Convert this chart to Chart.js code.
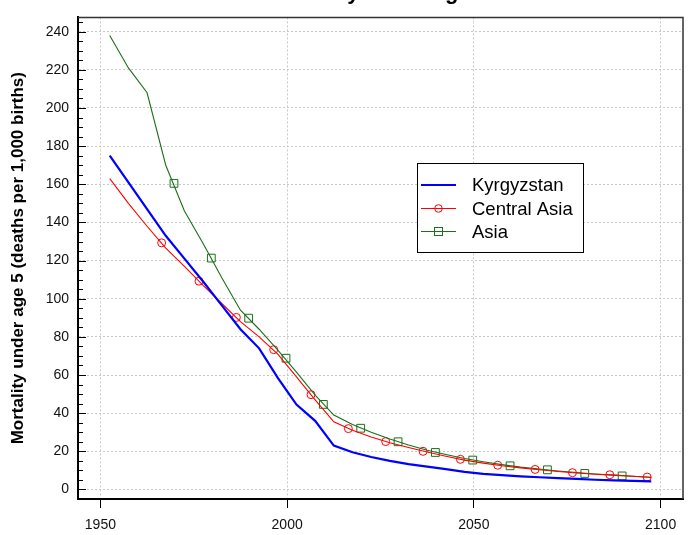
<!DOCTYPE html>
<html>
<head>
<meta charset="utf-8">
<title>Mortality under age 5</title>
<script src="https://cdn.jsdelivr.net/npm/chart.js@4"></script>
<style>
  html, body { margin: 0; padding: 0; background: #fff; }
  #wrap { width: 695px; height: 535px; }
</style>
</head>
<body>
<div id="wrap"><canvas id="myChart" width="695" height="535"></canvas></div>
<script>
const years = [1952.5, 1957.5, 1962.5, 1967.5, 1972.5, 1977.5, 1982.5, 1987.5, 1992.5, 1997.5,
  2002.5, 2007.5, 2012.5, 2017.5, 2022.5, 2027.5, 2032.5, 2037.5, 2042.5, 2047.5,
  2052.5, 2057.5, 2062.5, 2067.5, 2072.5, 2077.5, 2082.5, 2087.5, 2092.5, 2097.5];

const kyrgyzstan = [175, 161, 147, 133, 121, 109, 96.5, 84, 74, 58.5,
  44.5, 36, 23, 19.5, 17, 15, 13.3, 12, 10.7, 9.2,
  8.2, 7.5, 6.9, 6.4, 5.9, 5.5, 5.1, 4.8, 4.5, 4.2];

const centralAsia = [163, 150, 138, 126.5, 117, 107, 97.5, 88, 80, 71,
  59, 47, 35.5, 31, 27.5, 24.5, 22, 19.6, 17.4, 15.4,
  13.8, 12.4, 11.3, 10.3, 9.4, 8.6, 8.0, 7.5, 6.9, 6.4];

const asia = [238, 221, 208, 170, 146, 129, 111, 94, 84, 73,
  61.5, 49.5, 39, 34, 30, 26.5, 23.3, 20.6, 18.3, 16.2,
  14.5, 13.0, 11.7, 10.7, 9.7, 8.9, 8.1, 7.5, 6.9, 6.3];

const centralAsiaMarkerYears = [1966.4, 1976.4, 1986.4, 1996.4, 2006.4, 2016.4, 2026.4,
  2036.4, 2046.4, 2056.4, 2066.4, 2076.4, 2086.4, 2096.4];
const centralAsiaMarkers = [129.3, 109.2, 90.2, 73.3, 49.7, 31.9, 25.1,
  20.0, 15.8, 12.7, 10.5, 8.8, 7.7, 6.5];

const asiaMarkerYears = [1969.7, 1979.7, 1989.7, 1999.7, 2009.7, 2019.7, 2029.7,
  2039.7, 2049.7, 2059.7, 2069.7, 2079.7, 2089.7];
const asiaMarkers = [160.5, 121.3, 89.8, 68.8, 44.6, 32.1, 25.0,
  19.4, 15.4, 12.4, 10.3, 8.4, 7.1];

const seriesNames = ['Kyrgyzstan', 'Central Asia', 'Asia'];
const chartTitle = 'Mortality under age 5';
const yTitle = 'Mortality under age 5 (deaths per 1,000 births)';

const font = "'Liberation Sans', Arial, Helvetica, sans-serif";
const blue = '#0000ff';
const red = '#ff0000';
const green = '#197019';

const toPoints = (xs, ys) => xs.map((x, i) => ({ x: x, y: ys[i] }));

const extras = {
  id: 'extras',
  afterDraw: (chart) => {
    const { ctx, chartArea: area } = chart;
    const y = chart.scales.y;
    ctx.save();

    // title, mostly cut off by the top edge
    ctx.fillStyle = '#000';
    ctx.font = `bold 22px ${font}`;
    ctx.textAlign = 'center';
    ctx.textBaseline = 'alphabetic';
    ctx.fillText(chartTitle, (area.left + area.right) / 2 - 2, -1.5);

    // top and right frame
    ctx.strokeStyle = '#333';
    ctx.lineWidth = 1.5;
    ctx.beginPath();
    ctx.moveTo(area.left, area.top);
    ctx.lineTo(area.right, area.top);
    ctx.lineTo(area.right, area.bottom);
    ctx.stroke();

    // inward ticks on the y axis
    ctx.strokeStyle = '#000';
    ctx.lineWidth = 1;
    for (let v = 0; v <= 245; v += 5) {
      const py = Math.round(y.getPixelForValue(v)) + 0.5;
      const len = v % 20 === 0 ? 8 : 5;
      ctx.beginPath();
      ctx.moveTo(area.left, py);
      ctx.lineTo(area.left + len, py);
      ctx.stroke();
    }

    // legend box
    const bx = 417, by = 163, bw = 166, bh = 89;
    ctx.fillStyle = '#fff';
    ctx.fillRect(bx, by, bw, bh);
    ctx.strokeStyle = '#000';
    ctx.lineWidth = 1;
    ctx.strokeRect(bx + 0.5, by + 0.5, bw, bh);

    const rows = [185, 208.5, 231.5];
    chart.data.datasets.slice(0, 3).forEach((ds, i) => {
      const ry = rows[i];
      ctx.strokeStyle = ds.borderColor;
      ctx.lineWidth = ds.borderWidth;
      ctx.beginPath();
      ctx.moveTo(421, ry);
      ctx.lineTo(456, ry);
      ctx.stroke();
      ctx.lineWidth = 1;
      if (i === 1) {
        ctx.beginPath();
        ctx.arc(438.5, ry, 3.8, 0, Math.PI * 2);
        ctx.stroke();
      } else if (i === 2) {
        ctx.strokeRect(434.5, ry - 4, 8, 8);
      }
      ctx.fillStyle = '#000';
      ctx.font = `18.5px ${font}`;
      ctx.textAlign = 'left';
      ctx.textBaseline = 'middle';
      ctx.fillText(ds.label, 472, ry + 1);
    });

    ctx.restore();
  }
};

const createChart = () => {
  const ctx = document.getElementById('myChart');

  new Chart(ctx, {
    type: 'line',
    data: {
      datasets: [{
        label: seriesNames[0],
        data: toPoints(years, kyrgyzstan),
        borderColor: blue,
        borderWidth: 2.2,
        pointRadius: 0,
        tension: 0
      }, {
        label: seriesNames[1],
        data: toPoints(years, centralAsia),
        borderColor: red,
        borderWidth: 1.1,
        pointRadius: 0,
        tension: 0
      }, {
        label: seriesNames[2],
        data: toPoints(years, asia),
        borderColor: green,
        borderWidth: 1.1,
        pointRadius: 0,
        tension: 0
      }, {
        label: seriesNames[1] + ' markers',
        data: toPoints(centralAsiaMarkerYears, centralAsiaMarkers),
        showLine: false,
        borderColor: red,
        backgroundColor: 'rgba(0,0,0,0)',
        borderWidth: 1,
        pointStyle: 'circle',
        pointRadius: 4
      }, {
        label: seriesNames[2] + ' markers',
        data: toPoints(asiaMarkerYears, asiaMarkers),
        showLine: false,
        borderColor: green,
        backgroundColor: 'rgba(0,0,0,0)',
        borderWidth: 1,
        pointStyle: 'rect',
        pointRadius: 5.5
      }]
    },
    options: {
      responsive: false,
      animation: false,
      devicePixelRatio: 1,
      layout: { padding: { top: 8, right: 12, left: 0, bottom: 0 } },
      plugins: {
        legend: { display: false },
        tooltip: { enabled: false },
        title: { display: false }
      },
      scales: {
        x: {
          type: 'linear',
          min: 1944,
          max: 2106,
          afterFit: (s) => { s.height = 36; },
          ticks: {
            stepSize: 50,
            includeBounds: false,
            padding: 9,
            color: '#111',
            font: { family: font, size: 14 },
            maxRotation: 0,
            callback: (v) => String(v)
          },
          grid: {
            color: '#c8c8c8',
            drawTicks: true,
            tickLength: 9,
            tickColor: '#000',
            tickWidth: 1,
            tickBorderDash: []
          },
          border: { display: true, color: '#000', width: 2, dash: [2, 2] }
        },
        y: {
          type: 'linear',
          min: -5,
          max: 247.5,
          afterFit: (s) => { s.width = 78; },
          ticks: {
            stepSize: 20,
            includeBounds: false,
            padding: 9,
            color: '#111',
            font: { family: font, size: 14 }
          },
          grid: {
            color: '#c8c8c8',
            drawTicks: false
          },
          border: { display: true, color: '#000', width: 2, dash: [2, 2] },
          title: {
            display: true,
            text: yTitle,
            color: '#000',
            font: { family: font, size: 17, weight: 'bold' },
            padding: { top: 8, bottom: 0 }
          }
        }
      }
    },
    plugins: [extras]
  });
};

createChart();
</script>
</body>
</html>
